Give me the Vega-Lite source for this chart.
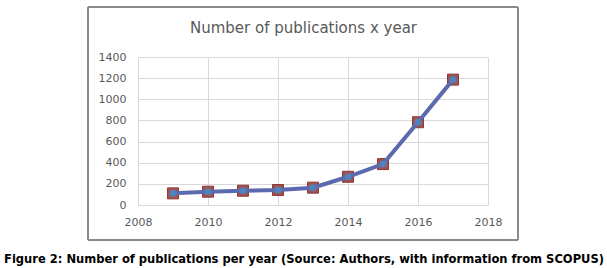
{
  "$schema": "https://vega.github.io/schema/vega-lite/v6.json",
  "autosize": "none",
  "padding": {"left": 138, "top": 57, "right": 119, "bottom": 63},
  "width": 350,
  "height": 148,
  "background": "white",
  "config": {"view": {"stroke": null}},
  "title": {
    "text": "Number of publications x year",
    "font": "DejaVu Sans",
    "fontSize": 15,
    "fontWeight": "normal",
    "color": "#595959",
    "anchor": "middle",
    "frame": "group",
    "dx": -9.5,
    "offset": -30
  },
  "data": {
    "values": [
      {"year": 2009, "count": 110},
      {"year": 2010, "count": 126},
      {"year": 2011, "count": 135},
      {"year": 2012, "count": 142},
      {"year": 2013, "count": 164},
      {"year": 2014, "count": 267},
      {"year": 2015, "count": 387},
      {"year": 2016, "count": 783},
      {"year": 2017, "count": 1186}
    ]
  },
  "encoding": {
    "x": {
      "field": "year",
      "type": "quantitative",
      "scale": {"domain": [2008, 2018], "nice": false, "zero": false},
      "axis": {
        "values": [2008, 2010, 2012, 2014, 2016, 2018],
        "format": "d",
        "grid": true,
        "gridColor": "#d9d9d9",
        "domainColor": "#d9d9d9",
        "ticks": false,
        "labelFlush": false,
        "labelPadding": 11,
        "labelFont": "DejaVu Sans",
        "labelFontSize": 11,
        "labelColor": "#595959",
        "title": "Figure 2: Number of publications per year (Source: Authors, with information from SCOPUS)",
        "titleFont": "DejaVu Sans Condensed",
        "titleFontSize": 12.8,
        "titleFontWeight": "bold",
        "titleColor": "#000000",
        "titleX": 165.5,
        "titleY": 57,
        "titleBaseline": "alphabetic",
        "titleAnchor": "middle"
      }
    },
    "y": {
      "field": "count",
      "type": "quantitative",
      "scale": {"domain": [0, 1400], "nice": false},
      "axis": {
        "values": [0, 200, 400, 600, 800, 1000, 1200, 1400],
        "format": "d",
        "grid": true,
        "gridColor": "#d9d9d9",
        "domain": false,
        "ticks": false,
        "labelPadding": 12,
        "labelFont": "DejaVu Sans",
        "labelFontSize": 11,
        "labelColor": "#595959",
        "title": null
      }
    }
  },
  "layer": [
    {
      "mark": {"type": "rect", "filled": false, "stroke": "#8a8a8a", "strokeWidth": 1, "clip": false},
      "encoding": {
        "x": {"datum": 2006.571},
        "x2": {"datum": 2018.857},
        "y": {"datum": 1873},
        "y2": {"datum": -331}
      }
    },
    {
      "mark": {"type": "point", "shape": "square", "filled": true, "size": 121, "fill": "#a5504d", "stroke": "#8b3a3a", "strokeWidth": 1, "opacity": 1}
    },
    {
      "mark": {"type": "line", "color": "#5b6aae", "strokeWidth": 4}
    },
    {
      "mark": {"type": "point", "shape": "circle", "filled": true, "size": 50, "fill": "#4f81bd", "opacity": 1, "strokeWidth": 0}
    }
  ]
}
